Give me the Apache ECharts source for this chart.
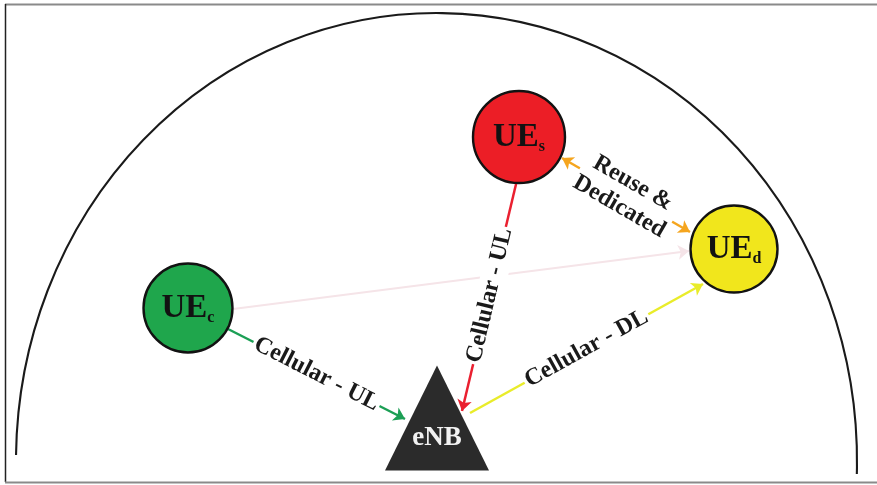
<!DOCTYPE html>
<html>
<head>
<meta charset="utf-8">
<script src="https://cdn.jsdelivr.net/npm/echarts@6/dist/echarts.min.js"></script>
<style>html,body{margin:0;padding:0;background:#fff}#c{width:877px;height:485px}</style>
</head>
<body>
<div id="c"></div>
<script>
// ---- data ----
var nodeNames = ['UEs', 'UEd', 'UEc', 'eNB'];
var nodeMain = ['UE', 'UE', 'UE', 'eNB'];
var nodeSub = ['s', 'd', 'c', ''];
var nodeX = [519, 734, 188, 437];
var nodeY = [137, 249, 308, 418];

var linkLabels = ['Cellular - UL', 'Cellular - UL', 'Cellular - DL', 'Reuse &\nDedicated', ''];
var linkFromX = [228, 517, 470, 562, 233];
var linkFromY = [329, 180, 413, 158, 309];
var linkToX = [405, 462, 703, 690, 689];
var linkToY = [419, 411, 284, 232, 251];

// ---- styles ----
var nodeColors = ['#ec1e26', '#f1e61c', '#1fa64c', '#2b2b2b'];
var nodeSizes = [92, 87, 89, [104, 105]];
var nodeSymbols = ['circle', 'circle', 'circle', 'triangle'];
var linkColors = ['#1c9f55', '#ea2030', '#e9ec2a', '#f5a51e', '#f5e4e8'];
var linkWidths = [2.5, 2.5, 2.5, 2.5, 2];
var linkSymbols = [['none', 'arrow'], ['none', 'arrow'], ['none', 'arrow'], ['arrow', 'arrow'], ['none', 'arrow']];
var serifB = '"Liberation Serif", "Times New Roman", serif';

var chart = echarts.init(document.getElementById('c'), null, {renderer: 'canvas'});

function hasSub(i) { return !!nodeSub[i]; }

var nodeData = nodeNames.map(function (n, i) {
  var lbl;
  if (hasSub(i)) {
    lbl = {
      formatter: '{m|' + nodeMain[i] + '}{s|' + nodeSub[i] + '}',
      rich: {
        m: {fontFamily: serifB, fontWeight: 'bold', fontSize: 33, color: '#121212', lineHeight: 36},
        s: {fontFamily: serifB, fontWeight: 'bold', fontSize: 16, color: '#121212', lineHeight: 12, verticalAlign: 'bottom'}
      }
    };
  } else {
    lbl = {
      formatter: nodeMain[i], fontFamily: serifB, fontWeight: 'bold', fontSize: 27,
      color: '#f2f2f2', offset: [0, 20]
    };
  }
  return {
    name: n,
    value: [nodeX[i], nodeY[i]],
    symbol: nodeSymbols[i],
    symbolSize: nodeSizes[i],
    itemStyle: {color: nodeColors[i], opacity: 1, borderColor: hasSub(i) ? '#121212' : '#2b2b2b', borderWidth: hasSub(i) ? 2.4 : 0},
    label: Object.assign({show: true, position: 'inside'}, lbl)
  };
});

var linkSeries = linkLabels.map(function (t, i) {
  return {
    type: 'lines',
    coordinateSystem: 'cartesian2d',
    z: 1,
    symbol: linkSymbols[i],
    symbolSize: 11,
    lineStyle: {color: linkColors[i], width: linkWidths[i], opacity: 1, curveness: 0},
    label: {
      show: !!t,
      position: 'middle',
      distance: 0,
      verticalAlign: 'middle',
      formatter: t,
      fontFamily: serifB,
      fontWeight: 'bold',
      fontSize: 24,
      lineHeight: 27,
      color: '#1a1a1a',
      backgroundColor: '#ffffff',
      padding: [0, 2]
    },
    data: [{coords: [[linkFromX[i], linkFromY[i]], [linkToX[i], linkToY[i]]]}],
    silent: true,
    animation: false
  };
});

chart.setOption({
  animation: false,
  backgroundColor: '#ffffff',
  grid: {left: 0, right: 0, top: 0, bottom: 0},
  xAxis: {type: 'value', min: 0, max: 877, show: false},
  yAxis: {type: 'value', min: 0, max: 485, inverse: true, show: false},
  graphic: [
    {type: 'line', z: -1, shape: {x1: 5, y1: 4.5, x2: 877, y2: 4.5}, style: {stroke: '#8a8a8a', lineWidth: 2}},
    {type: 'line', z: -1, shape: {x1: 5.5, y1: 4, x2: 5.5, y2: 482}, style: {stroke: '#222', lineWidth: 1.5}},
    {type: 'line', z: -1, shape: {x1: 5, y1: 482.5, x2: 877, y2: 482.5}, style: {stroke: '#8a8a8a', lineWidth: 2}},
    {
      type: 'group', x: 436.5, y: 461, scaleY: 448 / 420.5, z: -1,
      children: [{
        type: 'arc',
        shape: {cx: 0, cy: 0, r: 420.5, startAngle: Math.PI + 0.0134, endAngle: 2 * Math.PI + 0.029, clockwise: true},
        style: {stroke: '#1a1a1a', lineWidth: 2.1, fill: null}
      }]
    }
  ],
  series: linkSeries.concat([{
    type: 'scatter',
    z: 3,
    data: nodeData,
    silent: true,
    animation: false
  }])
});
</script>
</body>
</html>
